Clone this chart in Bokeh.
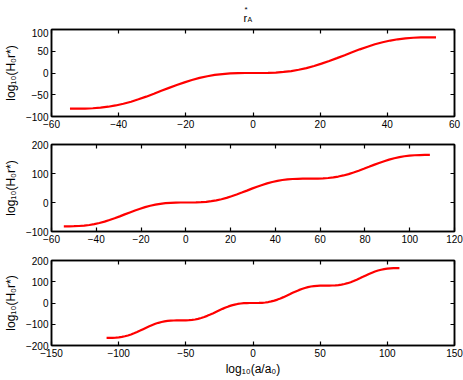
from bokeh.plotting import figure
from bokeh.models import Range1d, FixedTicker, LinearAxis
from bokeh.layouts import column
from bokeh.core.properties import value
from bokeh.embed import file_html
from bokeh.resources import INLINE

# ---- data (same curve, shown over three extents)
x_vals = [-109.0, -106.7, -104.5, -102.2, -99.9, -97.6, -95.4, -93.1, -90.8, -88.6,
          -86.3, -84.0, -81.8, -79.5, -77.2, -74.9, -72.7, -70.4, -68.1, -65.9,
          -63.6, -61.3, -59.0, -56.8, -54.5, -52.2, -50.0, -47.7, -45.4, -43.1,
          -40.9, -38.6, -36.3, -34.1, -31.8, -29.5, -27.3, -25.0, -22.7, -20.4,
          -18.2, -15.9, -13.6, -11.4, -9.1, -6.8, -4.5, -2.3,
          0.0, 2.3, 4.5, 6.8, 9.1, 11.4, 13.6, 15.9, 18.2, 20.4, 22.7, 25.0,
          27.3, 29.5, 31.8, 34.1, 36.3, 38.6, 40.9, 43.1, 45.4, 47.7, 50.0,
          52.2, 54.5, 56.8, 59.0, 61.3, 63.6, 65.9, 68.1, 70.4, 72.7, 74.9,
          77.2, 79.5, 81.8, 84.0, 86.3, 88.6, 90.8, 93.1, 95.4, 97.6, 99.9,
          102.2, 104.5, 106.7, 109.0]
y_vals = [-164.0, -164.0, -163.7, -163.0, -161.6, -159.5, -156.6, -152.7, -148.0, -142.5,
          -136.4, -129.8, -123.0, -116.2, -109.6, -103.5, -98.0, -93.3, -89.5, -86.5,
          -84.4, -83.0, -82.3, -82.0, -82.0, -82.0, -81.7, -81.0, -79.6, -77.5,
          -74.6, -70.7, -66.0, -60.5, -54.4, -47.8, -41.0, -34.2, -27.6, -21.5,
          -16.0, -11.3, -7.5, -4.5, -2.4, -1.0, -0.3, 0.0,
          0.0, 0.0, 0.3, 1.0, 2.4, 4.5, 7.5, 11.3, 16.0, 21.5, 27.6, 34.2,
          41.0, 47.8, 54.4, 60.5, 66.0, 70.7, 74.6, 77.5, 79.6, 81.0, 81.7,
          82.0, 82.0, 82.0, 82.3, 83.0, 84.4, 86.5, 89.5, 93.3, 98.0, 103.5,
          109.6, 116.2, 123.0, 129.8, 136.4, 142.5, 148.0, 152.7, 156.6, 159.5,
          161.6, 163.0, 163.7, 164.0, 164.0]

# curve extent (x) per panel
extent_1 = (-54.5, 54.5)
extent_2 = (-54.5, 109.0)
extent_3 = (-109.0, 109.0)

# axis ranges and ticks
xr_1, yr_1 = (-60, 60), (-100, 100)
xr_2, yr_2 = (-60, 120), (-100, 200)
xr_3, yr_3 = (-150, 150), (-200, 200)
xt_1 = [-60, -40, -20, 0, 20, 40, 60]
yt_1 = [-100, -50, 0, 50, 100]
xt_2 = [-60, -40, -20, 0, 20, 40, 60, 80, 100, 120]
yt_2 = [-100, 0, 100, 200]
xt_3 = [-150, -100, -50, 0, 50, 100, 150]
yt_3 = [-200, -100, 0, 100, 200]

title_main = "r"
title_sup = "*"
title_sub = "A"
ylabel = "log\u2081\u2080(H\u2080r*)"
xlabel = "log\u2081\u2080(a/a\u2080)"

FONT = "Liberation Sans"


def style_axis(ax, ticks, show_labels=True):
    ax.ticker = FixedTicker(ticks=ticks)
    ax.axis_line_color = "black"
    ax.axis_line_width = 1.5
    ax.major_tick_in = 4
    ax.major_tick_out = 0
    ax.major_tick_line_width = 1.2
    ax.minor_tick_line_color = None
    ax.major_label_text_font = FONT
    ax.major_label_text_color = "black"
    ax.axis_label_text_font = FONT
    ax.axis_label_text_font_style = "normal"
    ax.axis_label_text_font_size = "12px"
    ax.axis_label_text_color = "black"
    if show_labels:
        ax.major_label_text_font_size = "10px"
        ax.major_label_standoff = 3
    else:
        ax.major_label_overrides = {t: "" for t in ticks}
        ax.major_label_text_font_size = "1px"
        ax.major_label_standoff = 0


def make_panel(xr, yr, xt, yt, extent, fh, top, bottom, xl=None):
    p = figure(frame_width=403, frame_height=fh,
               x_range=Range1d(*xr), y_range=Range1d(*yr),
               output_backend="svg", toolbar_location=None,
               min_border_left=49, min_border_right=11,
               min_border_top=top, min_border_bottom=bottom)
    p.xgrid.visible = False
    p.ygrid.visible = False
    p.outline_line_color = "black"
    p.outline_line_width = 1.5
    p.outline_line_alpha = 1.0
    p.background_fill_color = "white"
    p.border_fill_color = "white"

    style_axis(p.xaxis[0], xt)
    style_axis(p.yaxis[0], yt)
    p.yaxis[0].axis_label = ylabel
    p.yaxis[0].axis_label_standoff = 5
    if xl:
        p.xaxis[0].axis_label = xl
        p.xaxis[0].axis_label_standoff = 2

    top_ax = LinearAxis()
    style_axis(top_ax, xt, show_labels=False)
    p.add_layout(top_ax, "above")
    right_ax = LinearAxis()
    style_axis(right_ax, yt, show_labels=False)
    p.add_layout(right_ax, "right")

    xs = [x for x in x_vals if extent[0] - 0.01 <= x <= extent[1] + 0.01]
    ys = [y for x, y in zip(x_vals, y_vals) if extent[0] - 0.01 <= x <= extent[1] + 0.01]
    p.line(xs, ys, line_color="#ff0000", line_width=2.2)
    return p


# header strip holding the title r*_A
head = figure(frame_width=403, frame_height=28,
              x_range=Range1d(*xr_1), y_range=Range1d(0, 28),
              x_axis_type=None, y_axis_type=None,
              output_backend="svg", toolbar_location=None,
              min_border=0, min_border_left=49, min_border_right=11)
head.xgrid.visible = False
head.ygrid.visible = False
head.outline_line_color = None
head.background_fill_color = "white"
head.border_fill_color = "white"
head.text(x=[0], y=[11], text=[title_main], x_offset=-9.5,
          text_font=value(FONT), text_font_size="11px", text_color="black",
          text_baseline="alphabetic", text_align="left")
head.text(x=[0], y=[24], text=[title_sup], x_offset=-8.5,
          text_font=value(FONT), text_font_size="8px", text_color="black",
          text_baseline="top", text_align="left")
head.text(x=[0], y=[9.5], text=[title_sub], x_offset=-5.5,
          text_font=value(FONT), text_font_size="7px", text_color="black",
          text_baseline="alphabetic", text_align="left")

p1 = make_panel(xr_1, yr_1, xt_1, yt_1, extent_1, 87, 1, 16)
p2 = make_panel(xr_2, yr_2, xt_2, yt_2, extent_2, 87, 12, 16)
p3 = make_panel(xr_3, yr_3, xt_3, yt_3, extent_3, 85, 13, 34, xl=xlabel)

layout = column(head, p1, p2, p3, spacing=0)
open("out.html", "w").write(file_html(layout, INLINE))
